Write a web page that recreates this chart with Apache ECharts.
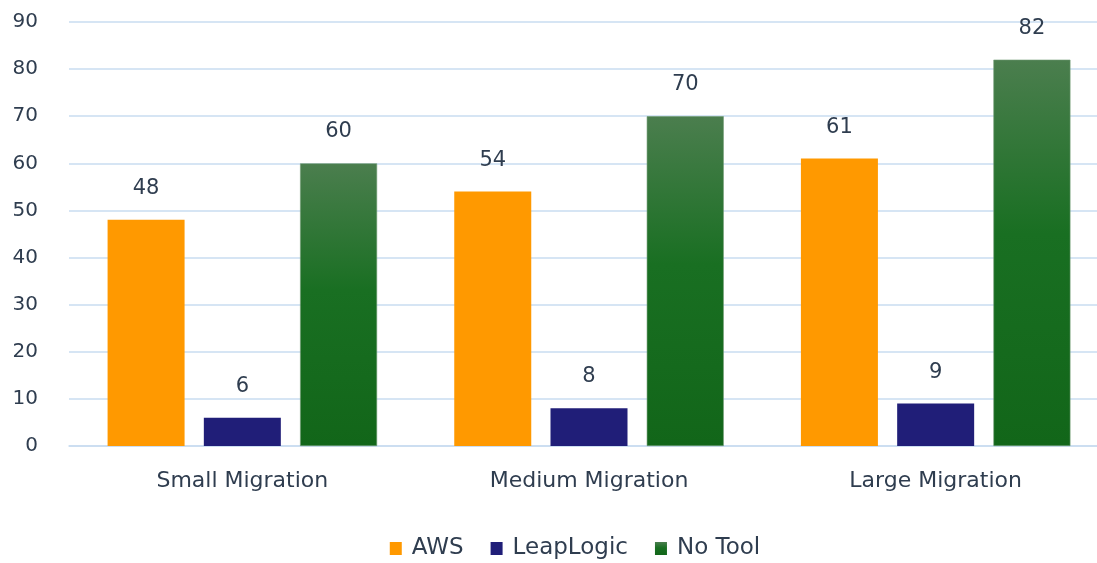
<!DOCTYPE html>
<html>
<head>
<meta charset="utf-8">
<script src="https://cdn.jsdelivr.net/npm/echarts@6/dist/echarts.min.js"></script>
<style>
html,body{margin:0;padding:0;background:#fff;overflow:hidden;width:1097px;height:563px;}
#c{width:1150px;height:563px;}
</style>
</head>
<body>
<div id="c"></div>
<script>
var categories = ['Small Migration', 'Medium Migration', 'Large Migration'];
var awsValues = [48, 54, 61];
var leapLogicValues = [6, 8, 9];
var noToolValues = [60, 70, 82];
var seriesNames = ['AWS', 'LeapLogic', 'No Tool'];

var textColor = '#2f3d4f';
var font = 'DejaVu Sans';

var chart = echarts.init(document.getElementById('c'), null, {renderer: 'canvas'});

var labelCfg = {
  show: true,
  position: 'top',
  distance: 21,
  color: textColor,
  fontSize: 21,
  fontFamily: font
};

chart.setOption({
  animation: false,
  backgroundColor: '#ffffff',
  textStyle: {fontFamily: font, color: textColor},
  grid: {left: 69, top: 22, right: 41, bottom: 117, containLabel: false},
  legend: {
    top: 532,
    left: 'center',
    itemWidth: 12,
    itemHeight: 13,
    itemGap: 27,
    icon: 'rect',
    itemStyle: {borderWidth: 0},
    textStyle: {color: textColor, fontSize: 23, fontFamily: font, padding: [0, 0, 0, 5]},
    data: seriesNames
  },
  xAxis: {
    type: 'category',
    data: categories,
    axisLine: {show: true, lineStyle: {color: '#c9dcf0', width: 1.5}},
    axisTick: {show: false},
    axisLabel: {color: textColor, fontSize: 22, fontFamily: font, margin: 24}
  },
  yAxis: {
    type: 'value',
    min: 0,
    max: 90,
    interval: 10,
    axisLine: {show: false},
    axisTick: {show: false},
    splitLine: {lineStyle: {color: '#c9dcf0', width: 1.5}},
    axisLabel: {color: textColor, fontSize: 20, fontFamily: font, margin: 31}
  },
  series: [
    {
      name: seriesNames[0],
      type: 'bar',
      data: awsValues,
      barWidth: 77,
      barGap: '25%',
      itemStyle: {color: '#ff9900'},
      label: labelCfg
    },
    {
      name: seriesNames[1],
      type: 'bar',
      data: leapLogicValues,
      barWidth: 77,
      barGap: '25%',
      itemStyle: {color: '#201e78'},
      label: labelCfg
    },
    {
      name: seriesNames[2],
      type: 'bar',
      data: noToolValues,
      barWidth: 77,
      barGap: '25%',
      itemStyle: {
        color: new echarts.graphic.LinearGradient(0, 0, 0, 1, [
          {offset: 0, color: '#4b7e4e'},
          {offset: 0.45, color: '#196f22'},
          {offset: 1, color: '#126619'}
        ], false),
        borderColor: '#6f9a72',
        borderWidth: 0.6
      },
      label: labelCfg
    }
  ]
});
</script>
</body>
</html>
